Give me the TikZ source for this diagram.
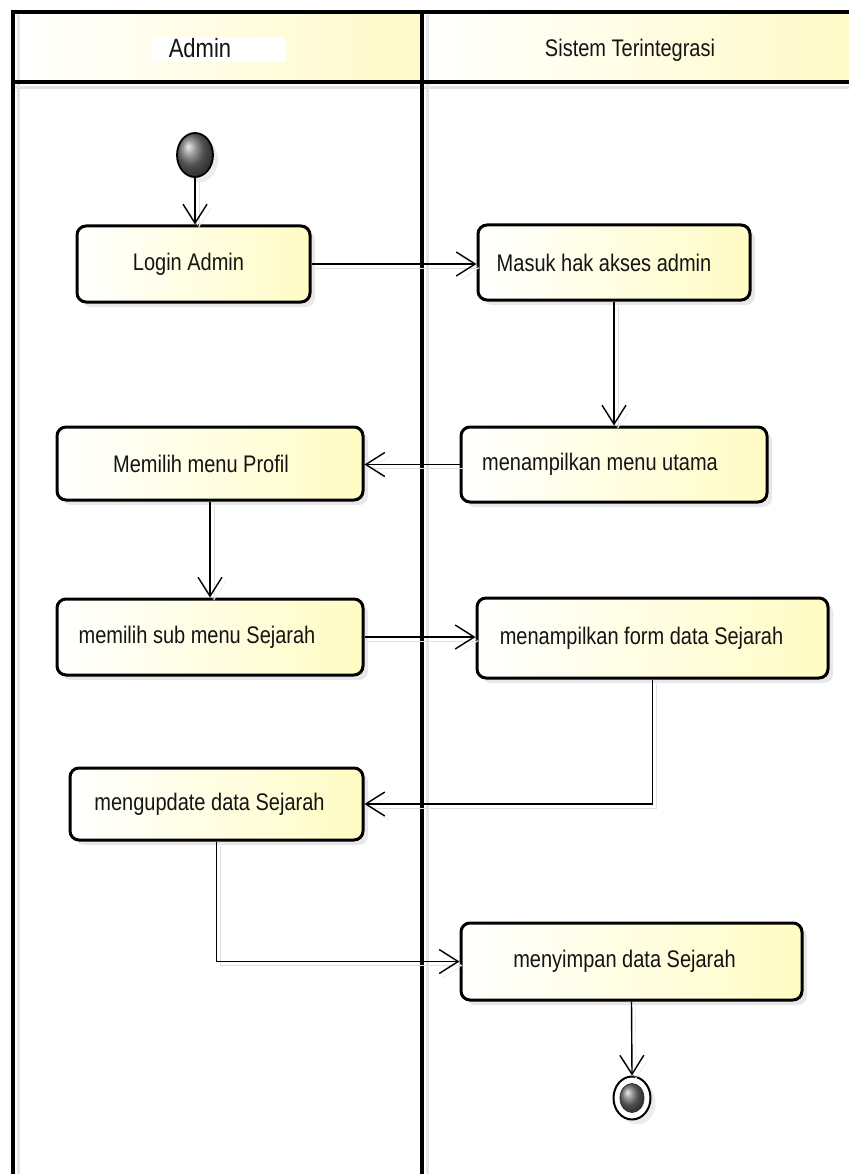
\documentclass[tikz,border=0pt]{standalone}
\usepackage{fontspec}
\setmainfont{Liberation Sans}
\usetikzlibrary{arrows.meta,shadows,shapes.geometric,calc}
\definecolor{boxy}{RGB}{255,252,196}
\definecolor{heady}{RGB}{255,250,200}
\newcommand{\tallt}[1]{\scalebox{1}[1.2]{#1}}
\begin{document}
\begin{tikzpicture}[x=1pt,y=-1pt,
  lane/.style={line width=4pt},
  laneshadow/.style={line width=3pt, draw=black!10},
  act/.style={draw=black, line width=3pt, rounded corners=9pt,
    left color=white, right color=boxy, inner sep=0pt,
    font=\fontsize{20}{24}\selectfont, text=black!92,
    drop shadow={shadow xshift=5pt, shadow yshift=-5pt, opacity=0.18}},
  lbl/.style={font=\fontsize{20}{24}\selectfont, text=black!92, inner sep=0pt},
  flow/.style={line width=1.4pt,
    -{Straight Barb[length=19pt,width=24pt,line width=1.4pt]},
    preaction={draw=black!12, transform canvas={xshift=4pt,yshift=-4pt}}},
  startn/.style={ellipse, draw=black, line width=1.8pt, minimum width=36pt,
    minimum height=44pt, inner sep=0pt, ball color=black!55,
    drop shadow={shadow xshift=5pt, shadow yshift=-5pt, opacity=0.15}},
  stopouter/.style={ellipse, draw=black, line width=2pt, fill=white,
    minimum width=37pt, minimum height=43pt, inner sep=0pt,
    drop shadow={shadow xshift=5pt, shadow yshift=-5pt, opacity=0.15}},
  stopinner/.style={ellipse, draw=black!80, line width=0.8pt, ball color=black!55,
    minimum width=24pt, minimum height=29pt, inner sep=0pt}
]
\useasboundingbox (0,0) rectangle (849,1174);
\fill[white] (0,0) rectangle (849,1174);

% swimlane header
\fill[left color=white, right color=heady] (13,12) rectangle (422,82);
\fill[left color=white, right color=heady] (422,12) rectangle (849,82);
\draw[laneshadow] (18,15) -- (18,1174);
\draw[laneshadow] (427,15) -- (427,1174);
\draw[laneshadow] (15,88) -- (849,88);
\draw[lane] (11,12) -- (849,12);
\draw[lane] (11,82) -- (849,82);
\draw[lane] (13,10) -- (13,1174);
\draw[lane] (422,10) -- (422,1174);

\fill[white] (152,37) rectangle (286,62);
\node[lbl, font=\fontsize{22}{26}\selectfont] (hadmin) at (200,48) {\tallt{Admin}};
\node[lbl] (hsys) at (630,50) {\tallt{Sistem Terintegrasi}};

% nodes
\node[startn] (start) at (195,155) {};
\node[act, minimum width=233pt, minimum height=76pt] (login) at (193.5,264) {\tallt{Login Admin}\hspace*{10pt}};
\node[act, minimum width=272pt, minimum height=75pt] (masuk) at (614,262.5) {\tallt{Masuk hak akses admin}\hspace*{20pt}};
\node[act, minimum width=306pt, minimum height=75pt] (utama) at (614,464.5) {\tallt{menampilkan menu utama}\hspace*{28pt}};
\node[act, minimum width=306pt, minimum height=73pt] (profil) at (210,463.5) {\tallt{Memilih menu Profil}\hspace*{18pt}};
\node[act, minimum width=306pt, minimum height=76pt] (sub) at (210,637) {\tallt{memilih sub menu Sejarah}\hspace*{26pt}};
\node[act, minimum width=351pt, minimum height=80pt] (form) at (652.5,638) {\tallt{menampilkan form data Sejarah}\hspace*{22pt}};
\node[act, minimum width=293pt, minimum height=72pt] (update) at (216.5,804) {\tallt{mengupdate data Sejarah}\hspace*{14pt}};
\node[act, minimum width=341pt, minimum height=77pt] (simpan) at (631.5,961.5) {\tallt{menyimpan data Sejarah}\hspace*{14pt}};
\node[stopouter] (stop) at (632,1098) {};
\node[stopinner] (stopcore) at (stop.center) {};

% connectors
\draw[flow] (start.south) -- (start.south |- login.north);
\draw[flow] (login.east) -- (login.east -| masuk.west);
\draw[flow] (masuk.south) -- (utama.north);
\draw[flow] (utama.west) -- (utama.west -| profil.east);
\draw[flow] (profil.south) -- (sub.north);
\draw[flow] (sub.east) -- (sub.east -| form.west);
\draw[flow] (form.south) |- (update.east);
\draw[flow] (update.south) |- (simpan.west);
\draw[flow] (simpan.south) -- (stop.north);
\end{tikzpicture}
\end{document}
